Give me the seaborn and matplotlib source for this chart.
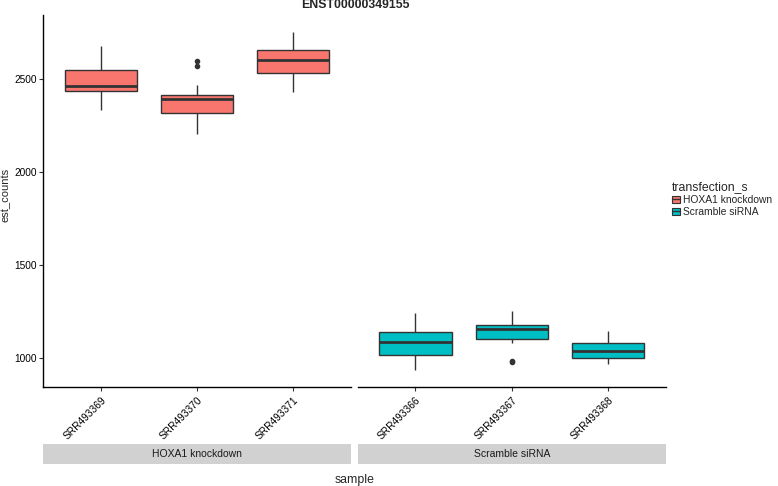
#!/usr/bin/env python3
#===============================================================================
# plot
#===============================================================================

# Imports ======================================================================

import matplotlib
matplotlib.use('Agg')
import matplotlib.pyplot as plt
from matplotlib.patches import Patch
from matplotlib.lines import Line2D
import pandas as pd
import seaborn as sns


# Data =========================================================================

title = 'ENST00000349155'
groups = ['HOXA1 knockdown', 'Scramble siRNA']
samples_hoxa1 = ['SRR493369', 'SRR493370', 'SRR493371']
samples_scramble = ['SRR493366', 'SRR493367', 'SRR493368']

# est_counts (whisker ends, quartiles, median, outliers)
counts = {
    'SRR493369': [2337, 2439, 2466, 2548, 2677],
    'SRR493370': [2204, 2245, 2290, 2317, 2340, 2372, 2396, 2402, 2410,
                  2418, 2470, 2574, 2597],
    'SRR493371': [2430, 2536, 2606, 2656, 2755],
    'SRR493366': [936, 1018, 1084, 1140, 1240],
    'SRR493367': [980, 986, 1081, 1102, 1120, 1140, 1153, 1160, 1170,
                  1177, 1200, 1225, 1250],
    'SRR493368': [968, 1002, 1038, 1081, 1144],
}
colors = ['#F8766D', '#00BFC4']


# Functions ====================================================================

def build_frame():
    rows = []
    for group, samples in zip(groups, (samples_hoxa1, samples_scramble)):
        for s in samples:
            for v in counts[s]:
                rows.append({'sample': s, 'est_counts': v,
                             'transfection_s': group})
    return pd.DataFrame(rows)


def main():
    sns.set_theme(style='white')
    plt.rcParams['font.family'] = ['Liberation Sans', 'DejaVu Sans']
    df = build_frame()
    palette = dict(zip(groups, colors))

    W, H = 778, 486
    fig = plt.figure(figsize=(W / 100, H / 100), dpi=100)
    top, bottom = 15, 386.7
    panels_x = [(43, 351), (357.7, 665.7)]
    edge = '#333333'

    for i, (group, samples) in enumerate(
            zip(groups, (samples_hoxa1, samples_scramble))):
        x0, x1 = panels_x[i]
        ax = fig.add_axes([x0 / W, 1 - bottom / H, (x1 - x0) / W,
                           (bottom - top) / H])
        sub = df[df['transfection_s'] == group]
        sns.boxplot(
            data=sub, x='sample', y='est_counts', hue='transfection_s',
            order=samples, hue_order=groups, palette=palette, dodge=False,
            width=0.75, linewidth=1.0, linecolor=edge, showcaps=False,
            saturation=1, legend=False, ax=ax,
            medianprops={'linewidth': 2.0, 'color': edge},
            flierprops={'marker': 'o', 'markersize': 3,
                        'markerfacecolor': edge, 'markeredgecolor': edge},
        )
        ax.set_xlim(-0.6, 2.6)
        ax.set_ylim(845, 2846)
        ax.set_xlabel('')
        ax.set_ylabel('')
        for side in ('top', 'right'):
            ax.spines[side].set_visible(False)
        ax.spines['bottom'].set_color('black')
        ax.spines['bottom'].set_linewidth(1.0)
        ax.tick_params(axis='x', bottom=True, length=3, width=0.8,
                       color='#333333', labelsize=7.3, pad=3,
                       labelcolor='black')
        for lab in ax.get_xticklabels():
            lab.set_rotation(45)
            lab.set_ha('right')
            lab.set_va('top')
            lab.set_rotation_mode('anchor')
        if i == 0:
            ax.spines['left'].set_color('black')
            ax.spines['left'].set_linewidth(1.0)
            ax.set_yticks([1000, 1500, 2000, 2500])
            ax.tick_params(axis='y', left=True, length=3, width=0.8,
                           color='#333333', labelsize=7.3, pad=1.5,
                           labelcolor='black')
        else:
            ax.spines['left'].set_visible(False)
            ax.set_yticks([])

        # facet strip underneath the tick labels
        sax = fig.add_axes([x0 / W, 1 - 464 / H, (x1 - x0) / W, 20 / H])
        sax.set_facecolor('#D1D1D1')
        sax.set_xticks([])
        sax.set_yticks([])
        for sp in sax.spines.values():
            sp.set_visible(False)
        sax.text(0.5, 0.5, group, ha='center', va='center', fontsize=7.5,
                 color='#1A1A1A', transform=sax.transAxes)

    fig.text(355 / W, 1 - 5 / H, title, ha='center', va='center',
             fontsize=8.8, fontweight='bold')
    fig.text(354.5 / W, 1 - 480 / H, 'sample', ha='center', va='center',
             fontsize=8.8)
    fig.text(6 / W, 1 - 195 / H, 'est_counts', ha='center', va='center',
             rotation=90, fontsize=8.0)

    handles = [
        (Patch(facecolor=c, edgecolor=edge, linewidth=0.8),
         Line2D([], [], color=edge, linewidth=1.0))
        for c in colors
    ]
    fig.legend(
        handles, groups, title='transfection_s', loc='upper left',
        bbox_to_anchor=(672 / W, 1 - 181 / H), frameon=False,
        fontsize=7.4, title_fontsize=8.8, handlelength=0.75,
        handleheight=0.75, handletextpad=0.3, labelspacing=0.2,
        borderpad=0, borderaxespad=0, alignment='left',
    )

    fig.savefig('out.png', dpi=100)


# Execute ======================================================================

if __name__ == '__main__':
    main()
